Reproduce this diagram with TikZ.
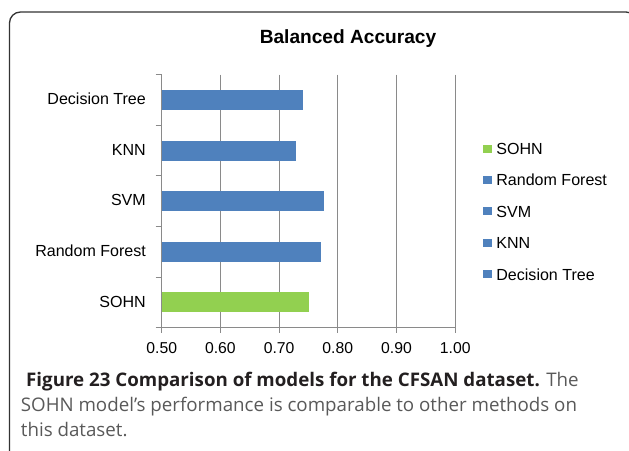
\documentclass[tikz,border=0pt]{standalone}
\usepackage{fontspec}
\setmainfont{Liberation Sans}
\newfontfamily\capfont{Open Sans}
\usetikzlibrary{positioning}
\definecolor{barblue}{HTML}{4F81BD}
\definecolor{bargreen}{HTML}{92D050}
\definecolor{gridgray}{HTML}{8A8A8A}
\definecolor{capdark}{HTML}{231F20}
\definecolor{capgray}{HTML}{595959}
\tikzstyle{frame}=[draw=black!80,line width=1.3bp,rounded corners=11bp]
\tikzstyle{gridln}=[draw=gridgray,line width=1bp]
\tikzstyle{bar}=[draw=none,inner sep=0pt,minimum height=20bp,anchor=west]
\tikzstyle{cat}=[anchor=base east,inner sep=0pt,font=\fontsize{16.1}{18}\selectfont]
\tikzstyle{ticklab}=[anchor=base,inner sep=0pt,font=\fontsize{15.8}{18}\selectfont]
\tikzstyle{legbox}=[fill=barblue,inner sep=0pt,minimum width=9bp,minimum height=8bp]
\tikzstyle{leg}=[inner sep=0pt,font=\fontsize{16.1}{18}\selectfont]
\tikzstyle{captxt}=[anchor=base west,inner sep=0pt,font=\capfont\fontsize{18.8}{20}\selectfont,text=capgray]

\begin{document}
\begin{tikzpicture}[x=1bp,y=-1bp]
  \useasboundingbox (0,0) rectangle (629,451);
  \begin{scope}
    \clip (0,0) rectangle (629,451);
    \draw[frame] (9.5,12) rectangle (637,480);
  \end{scope}
  % title
  \node[anchor=base,inner sep=0pt,font=\bfseries\fontsize{19.2}{22}\selectfont] (title) at (348,43.3) {Balanced Accuracy};
  % grid lines and value ticks
  \foreach \v/\lab in {0.5/0.50,0.6/0.60,0.7/0.70,0.8/0.80,0.9/0.90,1.0/1.00}{
    \draw[gridln] ({161.7+(\v-0.5)*587},74.7) -- ({161.7+(\v-0.5)*587},332.5);
    \node[ticklab] (tick-\lab) at ({161.7+(\v-0.5)*587},353.3) {\lab};
  }
  % axis and category ticks
  \draw[gridln] (155.7,327.7) -- (455,327.7);
  \foreach \i in {0,...,4}
    \draw[gridln] (155.7,{74.7+50.6*\i}) -- (161.7,{74.7+50.6*\i});
  % bars
  \foreach \name/\val/\col/\lab/\i in {dt/0.740/barblue/Decision Tree/0,
      knn/0.727/barblue/KNN/1, svm/0.776/barblue/SVM/2,
      rf/0.770/barblue/Random Forest/3, sohn/0.750/bargreen/SOHN/4}{
    \node[bar,fill=\col,minimum width={(\val-0.5)*587bp}] (bar-\name) at (162.2,{100+50.6*\i}) {};
    \node[cat] (lab-\name) at (146,{104.8+50.6*\i}) {\lab};
  }
  % legend
  \foreach \name/\col/\lab/\i in {sohn/bargreen/SOHN/0, rf/barblue/Random Forest/1,
      svm/barblue/SVM/2, knn/barblue/KNN/3, dt/barblue/Decision Tree/4}{
    \node[legbox,fill=\col] (box-\name) at (487.5,{148.7+31.4*\i}) {};
    \node[leg,right=4bp of box-\name] (leg-\name) {\lab};
  }
  % caption
  \node[captxt] (cap-1) at (26,386.7) {\textcolor{capdark}{\bfseries Figure 23 Comparison of models for the CFSAN dataset.} The};
  \node[captxt] (cap-2) at (20.7,411.7) {SOHN model’s performance is comparable to other methods on};
  \node[captxt] (cap-3) at (20.7,436) {this dataset.};
\end{tikzpicture}
\end{document}
